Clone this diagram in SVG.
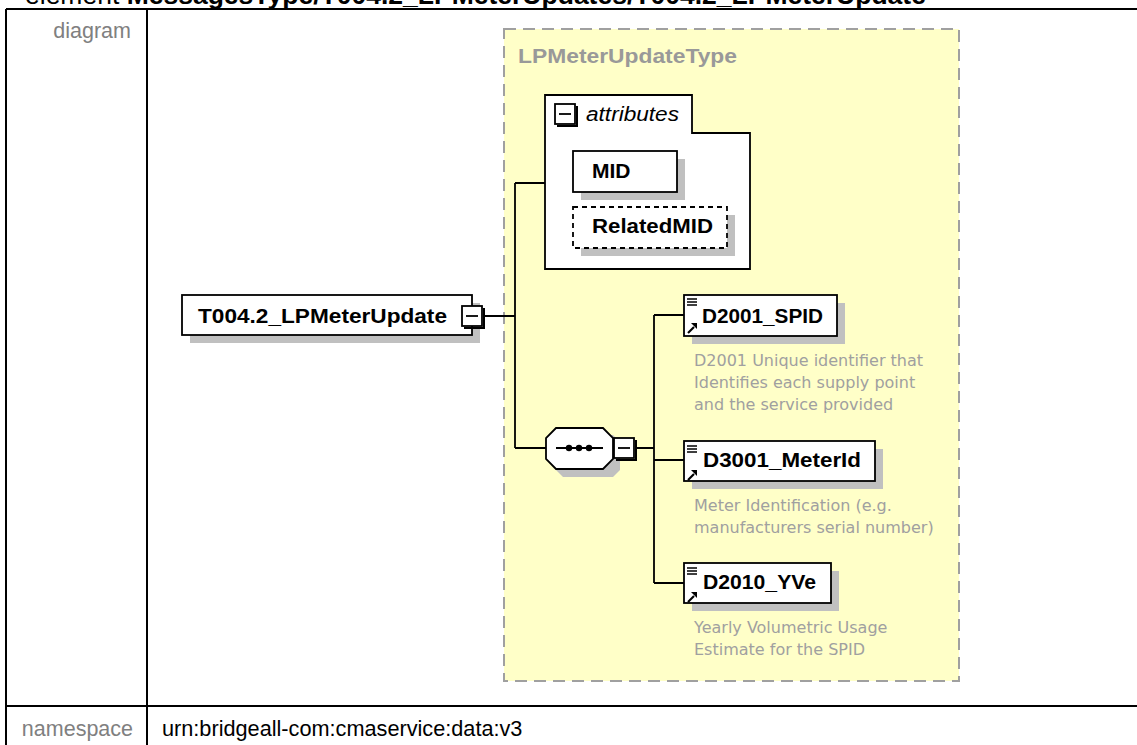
<svg xmlns="http://www.w3.org/2000/svg" xmlns:xlink="http://www.w3.org/1999/xlink" width="1137" height="745" viewBox="0 0 1137 745">
<style>
.lbl{font-family:"Liberation Sans",Arial,sans-serif;font-size:21.5px;fill:#808080}
.val{font-family:"Liberation Sans",Arial,sans-serif;font-size:21.7px;fill:#000}
.tbl{stroke:#000;stroke-width:2;fill:none}
.node{fill:#fff;stroke:#000;stroke-width:1.8}
.dnode{fill:#fff;stroke:#000;stroke-width:1.8;stroke-dasharray:5,4}
.shadow{fill:#c0c0c0}
.name{font-family:"Liberation Sans",Arial,sans-serif;font-weight:bold;font-size:21px;fill:#000}
.doc{font-family:"DejaVu Sans",sans-serif;font-size:16px;fill:#a0a0a0}
.conn{stroke:#000;stroke-width:1.8;fill:none}
.pm{fill:#fff;stroke:#000;stroke-width:1.8}
</style>
<defs>
<g id="elicon">
<path d="M3 4h10M3 7h10M3 10h10" stroke="#000" stroke-width="1.4" fill="none"/>
<path d="M4 38L10 32" stroke="#000" stroke-width="2.2"/>
<polygon points="7,28 13,28 13,34" fill="#000"/>
</g>
<g id="minus">
<rect x="0" y="0" width="20" height="20" class="pm"/>
<path d="M2 22H22V2" stroke="#000" stroke-width="2" fill="none"/>
<path d="M4 10H16" stroke="#000" stroke-width="1.8"/>
</g>
</defs>
<rect width="1137" height="745" fill="#fff"/>
<g id="header">
<text x="25" y="4" font-family="Liberation Sans,Arial,sans-serif" font-size="26.5" fill="#000">element <tspan font-weight="bold">MessagesType/T004.2_LPMeterUpdates/T004.2_LPMeterUpdate</tspan></text>
</g>
<g id="table">
<path class="tbl" d="M6 9H1137M6 9V745M147 9V745M6 706H1137"/>
<text class="lbl" x="131" y="38" text-anchor="end">diagram</text>
<text class="lbl" x="133" y="736" text-anchor="end">namespace</text>
<text class="val" x="162" y="736">urn:bridgeall-com:cmaservice:data:v3</text>
</g>
<g id="LPMeterUpdateType">
<rect x="504" y="29" width="455" height="652" fill="#ffffc8" stroke="#a0a0a0" stroke-width="2" stroke-dasharray="12,7"/>
<text x="518" y="63" font-family="Liberation Sans,Arial,sans-serif" font-weight="bold" font-size="21" fill="#999" textLength="219" lengthAdjust="spacingAndGlyphs">LPMeterUpdateType</text>
</g>
<g id="connectors">
<path class="conn" d="M483 316H515M515 183V448M515 183H545M515 448H546M636 448H654M654 315V583M654 315H684M654 460H684M654 583H684"/>
</g>
<g id="T004.2_LPMeterUpdate">
<rect class="shadow" x="190" y="303" width="290" height="40"/>
<rect class="node" x="182" y="295" width="290" height="40"/>
<text class="name" x="198" y="323" font-size="22" textLength="249" lengthAdjust="spacingAndGlyphs">T004.2_LPMeterUpdate</text>
<use xlink:href="#minus" x="462" y="306"/>
</g>
<g id="attributes">
<polygon class="node" points="545,95 692,95 692,133 750,133 750,269 545,269"/>
<use xlink:href="#minus" x="555" y="104"/>
<text x="586" y="121" font-family="Liberation Sans,Arial,sans-serif" font-style="italic" font-size="20" fill="#000" textLength="93" lengthAdjust="spacingAndGlyphs">attributes</text>
</g>
<g id="MID">
<rect class="shadow" x="581" y="159" width="104" height="41"/>
<rect class="node" x="573" y="151" width="104" height="41"/>
<text class="name" x="592" y="178">MID</text>
</g>
<g id="RelatedMID">
<rect class="shadow" x="581" y="215" width="154" height="41"/>
<rect class="dnode" x="573" y="207" width="154" height="41"/>
<text class="name" x="592" y="233" textLength="121" lengthAdjust="spacingAndGlyphs">RelatedMID</text>
</g>
<g id="sequence">
<polygon class="shadow" points="563,435 613,435 620,442 620,470 613,477 563,477 556,470 556,442"/>
<polygon class="node" points="556,428 603,428 613,438 613,459 603,469 556,469 546,459 546,438"/>
<path d="M556 448H603" stroke="#000" stroke-width="1.8"/>
<circle cx="569" cy="448" r="3.2" fill="#000"/>
<circle cx="579" cy="448" r="3.2" fill="#000"/>
<circle cx="589" cy="448" r="3.2" fill="#000"/>
<use xlink:href="#minus" x="614" y="438"/>
</g>
<g id="D2001_SPID">
<rect class="shadow" x="692" y="303" width="153" height="41"/>
<rect class="node" x="684" y="295" width="153" height="41"/>
<use xlink:href="#elicon" x="684" y="295"/>
<text class="name" x="702" y="323" textLength="121" lengthAdjust="spacingAndGlyphs">D2001_SPID</text>
<text class="doc" x="694" y="366">D2001 Unique identifier that</text>
<text class="doc" x="694" y="388">Identifies each supply point</text>
<text class="doc" x="694" y="410">and the service provided</text>
</g>
<g id="D3001_MeterId">
<rect class="shadow" x="692" y="449" width="191" height="40"/>
<rect class="node" x="684" y="441" width="191" height="40"/>
<use xlink:href="#elicon" x="684" y="442"/>
<text class="name" x="703" y="467" textLength="158" lengthAdjust="spacingAndGlyphs">D3001_MeterId</text>
<text class="doc" x="694" y="511">Meter Identification (e.g.</text>
<text class="doc" x="694" y="533">manufacturers serial number)</text>
</g>
<g id="D2010_YVe">
<rect class="shadow" x="692" y="571" width="147" height="40"/>
<rect class="node" x="684" y="563" width="147" height="40"/>
<use xlink:href="#elicon" x="684" y="564"/>
<text class="name" x="703" y="589" textLength="113" lengthAdjust="spacingAndGlyphs">D2010_YVe</text>
<text class="doc" x="694" y="633">Yearly Volumetric Usage</text>
<text class="doc" x="694" y="655">Estimate for the SPID</text>
</g>
</svg>
